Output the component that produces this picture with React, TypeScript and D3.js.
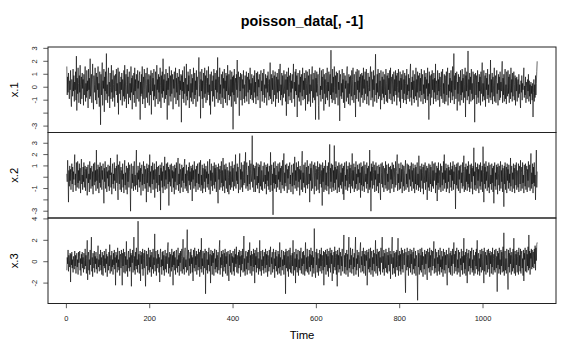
import React from "react";
import * as d3 from "d3";

const chartTitle = "poisson_data[, -1]";
const xTitle = "Time";
const seriesNames = ["x.1", "x.2", "x.3"];

const series1 = [
  1.6, -0.6, 0.8, -0.4, 1.1, 0.2, -0.9, 0.5, -0.2, 1.3,
  -0.8, -1.5, 0.6, 0.1, -0.7, 1.4, -0.3, 0.9, -1.1, 0.4,
  -0.2, 1.2, -1.0, 2.4, -1.8, 0.7, -0.5, 1.5, 0.3, -1.2,
  0.9, -0.4, 1.7, -1.3, 0.2, 0.8, -0.9, 1.1, -0.1, 0.6,
  -1.4, 1.0, -0.6, 0.4, 1.6, -1.1, 0.3, -0.8, 1.3, -0.3,
  0.5, -1.6, 1.4, -0.2, 0.7, -0.9, 2.2, -0.7, 0.1, 1.0,
  -1.2, 0.6, 1.8, -0.5, -1.7, 0.9, 0.2, -0.4, 1.5, -1.0,
  0.4, 1.1, -1.3, 0.8, -0.2, 1.6, -0.8, 0.3, -1.5, 1.2,
  0.1, -2.9, 1.0, -0.6, 0.7, 1.9, -1.4, 0.5, -0.1, 1.4,
  -1.9, 0.8, -0.3, 1.2, -1.0, 2.6, -0.5, 0.2, -1.2, 0.9,
  1.5, -0.7, 0.4, -1.6, 1.1, 0.0, -0.9, 1.7, -0.4, 0.6,
  -1.1, 1.3, 0.2, -0.8, 0.9, -1.5, 0.5, 1.0, -0.3, 1.4,
  -0.6, 0.3, -1.2, 1.5, -2.1, 0.7, 1.2, -0.5, 0.4, -1.0,
  0.8, -0.2, 1.1, -1.4, 0.6, 0.1, -0.7, 1.3, -1.1, 1.7,
  -0.9, 0.4, 1.0, -1.6, 0.2, 1.4, -0.5, 0.8, -1.3, 0.5,
  1.2, -0.8, 0.3, -1.0, 1.6, -0.4, 0.7, -1.7, 0.9, 0.0,
  -0.6, 1.1, -1.2, 1.5, -0.3, 0.6, -1.5, 1.0, 0.2, -0.9,
  1.3, -0.1, 0.5, -1.1, 0.9, 1.2, -2.5, 0.4, -0.7, 1.0,
  -0.5, 1.6, -1.3, 0.3, 0.8, -0.9, 1.4, -0.2, -1.6, 0.7,
  1.1, -0.8, 0.2, 1.5, -1.2, 0.6, -0.4, 1.0, -1.4, 0.3,
  0.9, -0.6, 1.3, -2.1, 0.5, 1.1, -0.3, 0.7, -1.0, 1.4,
  -0.7, 0.2, -1.5, 1.2, 0.4, -0.9, 1.7, -0.2, 0.6, -1.3,
  1.0, -0.4, 0.8, -1.1, 1.5, 0.1, -1.6, 0.9, -0.5, 1.2,
  -0.8, 2.2, -0.3, 0.6, -1.2, 1.0, 0.3, -0.9, 1.4, -0.6,
  0.5, -2.5, 1.1, -0.2, 0.7, -1.4, 1.6, 0.0, -0.7, 0.9,
  -1.1, 1.3, -0.5, 0.4, 1.0, -1.7, 0.6, -0.1, 1.2, -0.8,
  0.3, 1.5, -1.3, 0.7, -0.4, 1.1, -1.0, 0.2, 0.8, -1.5,
  1.4, -0.6, 0.5, -0.2, 1.0, -2.7, 0.9, -0.3, 1.3, -0.9,
  0.4, -1.2, 1.6, -0.5, 0.1, 0.7, -1.4, 1.8, -0.7, 0.2,
  -1.0, 1.2, -0.3, 0.9, -1.6, 0.6, 1.4, -0.8, 0.3, -1.1,
  1.0, -0.4, 0.7, -1.3, 1.5, 0.0, -0.9, 1.1, -0.6, 0.5,
  -1.5, 1.3, -0.2, 0.8, -1.1, 0.4, 1.0, 2.3, -0.7, 0.2,
  1.2, -2.4, 0.6, -0.3, 1.4, -0.9, 0.5, -1.6, 1.1, 0.1,
  -0.8, 1.5, -0.5, 0.9, -1.2, 0.3, 1.3, -1.0, 0.7, -0.4,
  1.6, -0.6, 0.2, -1.4, 1.0, -2.1, 0.8, 1.2, -0.3, 0.5,
  -1.1, 0.9, -0.7, 1.4, 0.0, -1.5, 1.1, -0.2, 0.6, -0.9,
  1.3, -0.4, 2.3, -1.2, 0.4, 0.8, -1.0, 1.5, -0.5, 0.2,
  -1.3, 1.0, 0.3, -0.8, 1.2, -1.6, 0.7, -0.1, 1.4, -0.9,
  0.5, -1.2, 1.1, -0.3, 0.9, -1.4, 1.7, 0.1, -0.6, 1.0,
  -1.0, 0.4, 1.3, -0.7, 0.6, -1.5, 1.2, -0.4, 0.8, -3.25,
  0.9, -0.6, 1.4, -1.1, 0.3, 0.7, -1.3, 1.0, -0.2, 2.1,
  -0.8, 0.5, 1.2, -0.5, -2.2, 0.8, -0.3, 1.1, -1.0, 0.4,
  1.0, -1.4, 0.6, -0.1, 1.3, -0.9, 0.2, -1.2, 0.9, 0.3,
  -0.7, 1.2, -1.1, 0.5, 0.8, -0.4, 1.1, -1.3, 0.6, -0.2,
  1.5, -0.9, 0.3, -0.6, 1.0, -1.0, 0.7, 0.1, -1.2, 0.9,
  -0.4, 1.3, -0.8, 0.4, -1.3, 1.1, 0.2, -0.7, 1.2, -1.0,
  0.6, 0.0, 1.0, -0.5, -1.6, 0.8, 1.3, -0.3, 0.5, -1.1,
  1.1, -0.6, 0.4, 1.4, -1.2, 0.2, -0.8, 1.0, -0.1, 0.7,
  -1.4, 0.9, -0.4, 1.2, 0.3, -1.0, 0.6, -0.7, 1.9, -0.9,
  0.4, 1.0, -1.3, 0.7, -0.2, 1.3, -1.1, 0.5, 0.9, -0.6,
  1.2, -1.5, 0.3, 0.8, -0.9, 1.1, -0.4, 0.6, -1.2, 1.4,
  -0.3, 0.7, 1.8, -1.0, 0.2, -0.6, 1.1, -1.4, 0.9, 0.0,
  -0.8, 1.3, -0.5, 0.4, 1.0, -1.1, 0.6, -2.2, 1.2, -0.2,
  0.8, -1.3, 1.5, -0.7, 0.3, 0.9, -1.0, 1.1, -0.4, 0.5,
  -1.2, 1.0, -0.1, 0.7, 1.8, -0.9, 0.4, -1.5, 1.2, -0.3,
  1.4, -0.6, 0.9, -2.3, 0.6, 1.1, -0.8, 0.2, -1.1, 1.3,
  -0.4, 0.8, -1.4, 1.0, 0.1, -0.7, 1.5, -1.0, 0.5, -0.2,
  1.1, -0.9, 0.7, -1.8, 1.3, 0.3, -0.6, 1.2, -1.3, 0.4,
  0.9, -1.1, 1.4, -0.5, 0.2, -1.5, 1.0, -0.3, 0.8, 1.6,
  -1.2, 0.6, -0.8, 1.1, 0.4, -1.0, 1.3, -2.5, 0.7, -0.4,
  1.2, -0.7, 0.3, 1.0, -1.4, -2.5, 0.9, 1.5, -0.6, 0.1,
  -1.1, 1.3, -0.2, 0.8, -0.9, 1.4, 0.5, -1.8, 1.0, -0.5,
  0.6, -1.3, 1.1, 0.2, -0.8, 1.5, -1.0, 0.4, -0.3, 1.2,
  -1.5, 0.7, 1.0, -0.6, 2.86, -0.9, 0.3, -1.2, 1.4, -0.4,
  0.8, -1.0, 1.6, 0.0, -1.3, 0.9, -0.5, 1.2, -0.8, 0.5,
  1.1, -1.4, 0.4, -0.2, 1.3, -2.6, 0.7, 1.0, -0.7, 0.3,
  -0.9, 1.4, -0.4, 0.6, -1.2, 1.1, 0.2, -1.6, 0.9, -0.1,
  0.5, -1.1, 1.2, 1.6, -0.8, 0.3, -1.3, 1.0, -0.5, 0.8,
  -1.4, 0.9, 0.1, -0.7, 1.3, -1.0, 0.6, 1.5, -0.3, -1.2,
  1.0, -0.6, 0.4, -2.3, 1.2, 0.7, -0.9, 1.4, -0.2, 0.5,
  -1.1, 1.3, -0.4, 0.8, -1.5, 1.0, 0.3, -0.8, 1.1, -0.6,
  0.9, -1.2, 1.5, -0.1, 0.6, -1.0, 1.2, -0.5, 0.2, 1.4,
  -1.3, 0.5, -0.7, 1.1, 0.0, -1.4, 0.8, -0.3, 1.0, 1.6,
  -1.0, 0.4, 1.2, -0.8, 0.6, -1.5, 1.3, -0.2, 0.9, -1.1,
  0.7, 2.55, -0.6, 0.3, -1.2, 1.0, -0.4, 1.4, -0.9, 0.2,
  1.1, -0.7, 0.5, -1.7, 1.3, 0.1, -1.0, 0.8, -0.5, 1.2,
  -0.8, 0.6, -1.3, 1.0, 0.4, -0.6, 1.4, -1.1, 0.3, 0.9,
  -1.2, 1.1, -0.2, 0.7, -0.9, 1.3, -0.5, 1.5, -1.0, 0.4,
  0.8, -1.3, 1.0, 0.2, -0.7, 1.2, -1.1, 0.6, -0.3, 1.3,
  -0.6, 0.9, -1.4, 1.1, 0.0, -0.8, 1.4, -0.4, 0.5, -1.1,
  1.2, -1.6, 0.7, -0.2, 1.0, -0.9, 0.4, 1.3, -1.2, 0.6,
  -0.5, 1.1, -1.0, 0.3, 0.9, -1.3, 1.4, -0.6, 0.2, -0.9,
  1.0, -0.3, 0.7, -1.1, 1.2, 1.8, -0.8, 0.4, -1.4, 0.8,
  -0.2, 1.3, -0.9, 0.5, -1.2, 1.0, 0.3, -0.7, 1.5, -1.0,
  0.6, -0.4, 1.2, -1.5, 0.9, 0.1, -0.8, 1.1, -0.3, 0.7,
  -1.1, 1.4, -0.6, 0.4, 1.0, -1.3, 0.2, -0.5, 1.3, -0.9,
  0.8, -1.2, 1.1, -0.1, 0.6, -1.0, 1.5, -0.7, 0.3, -2.5,
  1.2, -0.5, 0.9, -1.4, 0.4, 1.0, -0.8, 1.3, -0.2, 0.6,
  -1.3, 1.1, -0.4, 0.7, -0.9, 1.8, -1.1, 0.5, 0.2, -0.6,
  1.3, -1.0, 0.6, -0.3, 1.1, -1.5, 0.8, 0.0, -0.7, 1.2,
  -0.9, 0.5, 1.4, -1.2, 0.3, -0.5, 1.0, -1.3, 0.9, 0.4,
  -1.1, 1.2, -0.6, 0.8, 1.5, -1.4, 0.2, -0.8, 1.1, -0.3,
  0.7, -1.2, 1.3, -0.4, 0.5, -1.0, 1.6, -0.7, 0.1, 2.6,
  -1.3, 0.9, -0.2, 1.1, -0.9, 0.6, 1.2, -1.8, 0.4, -0.5,
  1.0, -1.1, 0.8, 0.3, -1.4, 1.3, -0.6, 0.5, -1.0, 1.4,
  -0.4, 0.7, -1.2, 1.0, 0.2, -0.8, 1.5, -2.3, 0.9, -0.3,
  1.2, -1.0, 0.4, 2.8, -0.7, 0.6, -1.3, 1.1, -0.2, 0.8,
  -1.1, 1.4, -0.5, 0.3, -1.0, 1.2, 0.7, -0.9, 1.0, -2.7,
  0.5, 1.1, -0.6, 0.9, -1.3, 0.2, 1.3, -0.8, 0.4, -1.2,
  1.0, -0.3, 0.8, -1.4, 1.2, -0.5, 0.6, 1.9, -1.1, 0.3,
  -0.7, 1.3, -1.0, 0.5, 0.9, -1.5, 1.1, -0.2, 0.7, -0.9,
  1.4, -0.6, 0.2, -1.2, 1.0, 0.4, -0.8, 2.1, -1.0, 0.6,
  -0.4, 1.1, -1.3, 0.8, 0.1, -0.7, 1.5, -1.1, 0.5, 0.9,
  -1.2, 0.6, 1.3, -0.5, 0.3, -1.4, 1.0, -0.2, 0.8, -1.0,
  1.2, -0.8, 0.4, -0.3, 1.1, 2.0, -1.2, 0.7, -0.6, 1.0,
  -1.1, 0.5, 1.4, -0.9, 0.2, -1.3, 1.2, 0.0, -0.7, 1.3,
  -0.5, 0.8, -1.2, 1.0, 0.3, -0.9, 1.5, -0.4, 0.6, -1.1,
  1.1, -0.7, 0.4, 1.2, -1.0, 0.2, 0.9, -1.4, 0.7, -0.3,
  0.8, -1.1, 0.3, 0.6, -0.8, 1.0, -0.5, 0.2, -0.9, -1.6,
  0.5, -0.4, 0.9, -1.0, 0.3, -0.2, 0.7, 1.5, -0.8, 0.1,
  -0.6, 0.8, -1.2, 0.4, 0.0, -0.9, 0.6, -0.3, 1.0, -1.1,
  0.5, -0.7, 0.2, -1.3, 0.4, -0.5, 0.1, -1.0, 0.3, -2.3,
  -0.4, 0.6, -1.1, 0.2, -0.8, 0.9, -0.6, 0.3, 1.2, 2.0,
];

const series2 = [
  0.3, -0.4, 1.5, 0.2, -2.2, 0.6, -0.8, 1.0, -0.3, 0.7,
  -1.1, 0.4, 1.2, -0.6, 0.9, -1.3, 0.5, -0.2, 1.1, 2.0,
  -0.7, 0.3, -1.2, 1.3, 0.1, -0.9, 1.4, -0.5, 0.6, -1.0,
  1.2, -0.3, 0.8, -1.4, 0.4, 1.6, -0.6, 0.2, -1.1, 0.9,
  -0.4, 1.3, -0.9, 0.5, 1.0, -1.2, 0.7, -0.1, 0.9, -1.6,
  0.6, 1.1, -0.5, 0.3, -1.3, 1.4, -0.2, 0.8, -1.0, 0.4,
  1.0, -0.8, 0.5, -1.5, 1.2, 0.0, -0.7, 1.3, -0.4, 0.6,
  -1.2, 2.4, -0.3, 0.7, -1.0, 1.1, 0.2, -1.4, 0.9, -0.5,
  1.3, -0.9, 0.4, 1.0, -1.1, 0.6, -0.2, 1.2, -0.7, -2.3,
  0.8, -0.4, 1.4, -1.0, 0.3, 0.9, -1.3, 0.5, -0.1, 1.1,
  -0.8, 0.6, -1.2, 1.0, 0.2, 1.7, -0.9, 0.4, -1.5, 0.7,
  1.2, -0.6, 0.3, -1.0, 1.3, -0.3, 0.8, -1.2, 0.5, 1.0,
  -0.5, 2.0, -0.8, -2.0, 1.1, 0.2, -0.6, 1.4, -1.1, 0.4,
  0.9, -1.3, 0.6, -0.2, 1.2, -0.9, 0.3, -1.4, 0.7, 1.5,
  -0.7, 0.4, -1.1, 1.0, 0.1, -1.5, 0.8, -0.4, 1.3, -0.9,
  0.5, 1.1, -0.6, -3.0, 0.7, 1.2, -1.0, 0.3, -0.5, 1.0,
  -1.2, 0.6, 1.4, -0.8, 0.2, -1.1, 0.9, 2.4, -0.7, 0.4,
  -1.3, 1.0, -0.2, 0.6, -0.9, 1.3, -0.4, 0.8, -1.6, 0.5,
  1.1, -0.7, 0.3, -1.2, 1.4, 0.0, -0.6, 1.0, -1.0, 0.7,
  0.2, -2.2, 1.2, -0.5, 0.8, -1.3, 0.4, 1.1, -0.8, 2.0,
  -0.9, 0.5, -1.4, 1.0, 0.3, -0.6, 1.3, -1.1, 0.6, -0.2,
  1.2, -1.8, 0.7, 0.1, -1.0, 1.4, -0.5, 0.9, -1.3, 0.4,
  1.0, -0.7, 0.2, -1.2, 1.1, -2.9, 0.8, -0.3, 1.3, -0.9,
  0.5, -1.4, 1.0, 0.3, -0.8, 1.8, -1.1, 0.6, -0.2, 1.2,
  -1.0, 0.4, 1.3, -0.6, 0.9, -2.5, 0.7, -0.4, 1.1, -0.8,
  0.3, 1.2, -1.3, 0.6, -0.1, 1.0, -0.9, 0.5, -1.5, 1.1,
  -0.4, 0.8, -1.1, 1.3, 0.2, -0.7, 1.0, 1.7, -1.2, 0.3,
  -0.6, 1.2, -1.4, 0.7, 0.4, -0.9, 1.1, -0.3, 0.8, -1.3,
  0.9, -0.5, 1.2, 1.6, -1.0, 0.3, -0.8, 1.1, -1.2, 0.6,
  0.1, -1.4, 0.9, -0.3, 1.3, -0.7, 0.5, -1.1, 1.0, -0.4,
  0.8, -2.1, 1.1, -0.2, 0.6, -1.0, 1.4, 0.0, -0.8, 0.7,
  -1.3, 1.0, -0.5, 0.4, 1.2, -1.1, 0.3, -0.6, 1.3, -0.9,
  0.6, 1.5, -1.2, 0.2, -0.7, 1.1, -1.4, 0.8, 0.3, -1.0,
  1.2, -0.4, 0.7, -1.3, 1.0, -0.1, 0.5, -0.9, 1.4, -0.6,
  0.3, -1.1, 0.9, 1.6, -1.5, 0.6, -0.3, 1.2, -0.8, 0.4,
  -1.2, 1.0, 0.2, -0.7, 1.3, -1.0, 0.8, -0.4, 1.1, -1.3,
  0.5, 0.9, -0.6, -2.3, 1.2, -0.2, 0.7, -1.1, 1.0, 0.3,
  -0.9, 1.4, -0.5, 0.6, -1.2, 1.7, -0.8, 0.2, 1.1, -1.4,
  0.7, -0.3, 1.2, -1.0, 0.4, 0.9, -1.3, 0.6, 0.0, -1.5,
  1.3, -0.7, 0.5, -1.1, 1.0, 0.2, -0.9, 1.4, -0.4, 0.8,
  -1.2, 0.6, 1.1, -0.8, 0.3, 2.0, -1.0, 0.5, -0.3, 1.2,
  -0.6, 0.9, -1.4, 0.4, 1.0, 2.1, -1.1, 0.7, -0.2, 1.3,
  -0.9, 0.5, -1.3, 1.1, 0.0, -0.7, 1.4, -0.5, 0.8, 2.2,
  -1.0, 0.6, 1.3, -0.8, 0.2, -1.2, 1.0, 0.4, -0.6, 1.5,
  -1.1, 0.7, 1.2, -0.4, 0.3, 3.67, -0.9, 0.5, 1.1, -1.3,
  0.8, -0.2, 1.0, -1.3, 0.6, 1.3, -0.7, 0.1, -1.0, 1.2,
  -0.5, 0.9, -1.4, 1.1, 0.3, -0.8, 1.4, -1.1, 0.6, 0.0,
  -1.2, 1.0, -0.4, 0.7, 1.3, -1.0, 0.2, -0.6, 1.1, -1.5,
  0.9, -0.3, 1.2, -0.8, 0.5, -1.1, 1.0, 0.4, -1.3, 2.2,
  -0.7, 0.6, 1.1, -1.2, 0.3, -3.32, 1.3, -0.5, 0.8, -1.0,
  1.4, -0.6, 0.2, -1.3, 1.0, 0.7, -0.9, 1.2, -0.2, 0.5,
  -1.1, 1.3, -0.4, 0.8, -1.4, 1.0, 0.1, -0.7, 1.5, -1.0,
  0.6, 2.1, -1.2, 0.4, -0.5, 1.1, -0.8, 0.3, 1.2, -1.4,
  0.7, -0.1, 1.0, -1.1, 0.5, 1.3, -0.6, 0.2, -1.3, 0.9,
  1.1, -0.8, 0.4, -1.5, 1.2, 0.0, -0.7, 1.8, -1.0, 0.6,
  -0.3, 1.3, -1.2, 0.5, 0.9, -0.9, 1.4, -0.4, 0.7, -1.6,
  1.0, -0.2, 0.6, -1.1, 1.2, 2.3, -1.3, 0.4, -0.5, 1.1,
  -0.9, 0.7, 1.3, -1.4, 0.2, 0.9, -0.7, 1.5, -1.0, 0.4,
  1.0, -0.6, 0.3, -2.2, 1.2, -0.3, 0.8, -1.2, 1.4, 0.1,
  -1.0, 0.6, 1.1, -0.5, -1.5, 1.3, -0.8, 0.4, 1.0, -1.2,
  0.7, -0.2, 1.4, -1.1, 0.5, 0.9, -1.4, 1.2, -0.6, 0.3,
  1.1, -0.9, 0.6, -2.5, 1.3, -0.4, 0.8, -1.3, 1.0, 0.2,
  -1.1, 1.5, -0.7, 0.4, -1.2, 1.0, 0.6, -0.8, 1.3, -1.5,
  0.5, 2.9, -1.0, 0.8, -0.4, 1.2, -1.3, 0.3, 1.1, -0.9,
  0.6, -1.2, 2.8, -0.5, 0.9, -1.1, 1.4, -0.2, 0.7, -1.4,
  1.0, 0.3, -0.9, 1.3, -1.3, 0.6, 1.1, -0.7, 0.4, -1.0,
  1.2, -0.4, 0.8, -1.5, 1.0, -2.0, 0.5, 1.3, -0.8, 0.2,
  -1.1, 1.4, -0.3, 0.7, -1.2, 1.0, 0.1, -0.9, 1.3, -0.6,
  0.8, -1.4, 1.1, 0.4, -0.8, 2.1, -1.0, 0.6, -0.3, 1.2,
  -1.3, 0.5, 0.9, -1.0, 1.4, -0.6, 0.3, -1.2, 1.1, 0.0,
  0.7, -1.1, 1.2, -0.5, 0.4, -1.8, 1.3, -0.7, 0.9, -1.2,
  1.0, 0.2, -0.8, 1.4, -1.3, 0.6, 1.1, -0.4, 0.3, -1.0,
  1.3, -0.6, 0.8, -1.4, 1.0, 0.1, -1.1, 2.4, -0.9, 0.5,
  -3.0, 1.2, -0.3, 0.9, -1.0, 1.4, 0.4, -0.7, 1.1, -1.3,
  0.6, -0.2, 1.3, -1.2, 0.7, 1.0, -0.8, 0.3, -1.4, 1.1,
  -0.5, 0.9, -1.1, -2.0, 1.2, 0.4, -0.6, 1.3, -0.9, 0.7,
  1.0, -1.3, 0.2, 0.8, -0.7, 1.4, -1.0, 0.5, 1.1, -1.2,
  0.3, -0.4, 1.2, -1.1, 0.9, 0.6, -1.4, 1.0, -0.2, 0.7,
  -1.0, 1.3, -0.6, 0.4, 1.1, -1.3, 0.8, 0.0, -0.9, 1.4,
  -0.7, 0.5, 1.0, 2.0, -1.2, 0.3, -0.5, 1.2, -1.1, 0.8,
  0.2, -1.0, 1.3, -0.4, 0.7, -1.4, 1.1, 0.5, -0.8, 1.0,
  -1.2, 0.6, 0.9, 1.5, -1.1, 0.3, -0.6, 1.2, -0.9, 0.4,
  1.1, -1.3, 0.7, -0.2, 1.0, -0.8, 0.5, 1.3, -1.2, 0.6,
  -0.4, 1.2, -1.0, 0.8, 0.2, -1.4, 1.1, -0.6, 0.9, -1.1,
  0.5, 1.3, -0.7, 0.3, -1.2, 1.9, -0.9, 0.6, 1.0, -1.3,
  0.7, -0.3, 1.2, -1.0, 0.4, 0.9, -1.5, 1.1, -0.5, 0.2,
  1.3, -1.1, 0.6, -0.4, 1.0, -2.0, 0.8, 0.3, -0.9, 1.2,
  -1.2, 0.5, 1.1, -0.6, 0.9, -1.3, 0.2, 1.4, -0.8, 0.6,
  -1.0, 1.2, -0.3, 0.7, 1.3, -1.4, 0.4, -0.7, 1.0, -2.1,
  0.8, -0.5, 1.3, -1.1, 0.6, 0.1, -0.9, 1.2, -1.3, 0.5,
  1.0, -0.7, 0.4, -1.2, 1.4, -0.2, 2.0, -1.0, 0.6, -0.5,
  1.2, -1.3, 0.8, 0.3, -1.0, 1.1, -0.4, 0.9, -1.4, 0.6,
  0.2, 1.3, -0.9, 0.7, -1.2, 1.0, -0.3, 1.4, -1.1, 0.5,
  -0.6, 1.1, 0.4, -2.8, 0.9, -0.7, 1.2, -1.0, 0.3, 1.3,
  -1.2, 0.6, -0.2, 1.0, -1.4, 0.8, 1.1, -0.5, 0.4, -1.0,
  1.3, -0.8, 0.5, 1.9, -1.3, 0.2, 0.9, -1.1, 1.2, -0.4,
  0.7, -1.2, 1.0, -0.6, 1.4, -0.9, 0.3, -1.3, 1.1, 0.6,
  -1.0, 1.2, -0.4, 0.8, -1.5, 1.0, 0.1, 2.6, -1.1, 0.5,
  -0.7, 1.3, -1.2, 0.4, 0.9, -1.0, 1.2, -0.3, 0.7, -1.4,
  1.1, 0.2, -0.8, 1.3, -1.1, 0.6, -0.4, 1.0, -1.3, 2.7,
  0.4, -2.2, 1.2, -0.6, 0.9, -1.0, 1.4, -0.3, 0.5, -1.2,
  1.0, 0.3, -0.9, 1.3, -1.4, 0.7, 1.1, -0.6, 0.2, -1.1,
  1.2, -0.5, 0.8, -1.3, 1.0, -2.3, 0.6, 1.3, -0.8, 0.4,
  -1.1, 1.1, -0.2, 0.9, -1.5, 1.2, 0.3, -0.7, 1.0, -1.2,
  0.5, 1.4, -1.0, 0.6, -0.4, 1.1, -1.3, 0.8, 0.1, -2.6,
  1.0, -0.6, 1.3, -1.1, 0.4, 0.9, -1.4, 1.2, -0.3, 0.7,
  -1.0, 1.1, -0.5, 0.3, -1.2, 1.7, -0.8, 0.6, 1.0, -1.3,
  0.4, -0.2, 1.2, -1.0, 0.8, -1.4, 1.1, 0.5, -0.7, 1.3,
  -1.1, 0.6, 0.2, -0.9, 1.2, -1.3, 0.7, 1.0, -0.6, 1.5,
  -1.2, 0.4, 0.9, -1.0, 1.3, -0.5, 0.2, -1.4, 1.1, 0.6,
  -0.8, 1.2, -1.1, 0.5, 1.0, -1.3, 0.7, -0.3, 1.4, -0.9,
  0.3, 1.1, -1.2, 0.8, 2.1, -1.0, 0.4, -0.6, 1.2, -1.4,
  0.9, -0.5, 1.3, -0.8, 0.2, -2.0, 0.7, 2.4, -0.9, 0.5,
];

const series3 = [
  -0.8, 0.4, -0.2, 1.1, -0.9, 0.6, 0.1, -0.5, 0.8, -1.9,
  0.7, -0.3, 0.9, -0.6, 0.2, -1.0, 0.5, 0.0, -0.7, 1.0,
  -0.4, 0.6, -1.1, 0.3, 0.8, -0.5, 0.2, -1.2, 0.9, -0.1,
  0.5, 1.0, -0.8, 0.3, -1.3, 0.7, -0.2, 0.9, -0.6, 0.4,
  -1.0, 0.8, 0.1, -0.7, 1.2, -0.4, 0.6, -1.1, 0.3, 2.0,
  -1.7, 0.5, 0.9, -0.8, 0.2, -1.2, 1.1, -0.3, 0.6, 2.3,
  -0.9, 0.4, -1.4, 0.8, 0.0, -0.6, 1.0, -1.0, 0.5, -0.2,
  0.9, -0.7, 0.3, -1.1, 0.6, 1.5, -0.5, 0.2, -0.9, 0.7,
  -0.3, 1.1, -0.8, 0.4, -1.2, 0.9, 0.1, -1.3, 0.6, -0.4,
  1.0, -0.6, 0.3, -1.0, 1.2, -0.2, 0.7, -1.4, 0.5, 0.0,
  -0.8, 0.9, -0.4, 1.6, -1.1, 0.3, 0.6, -0.9, 1.0, -0.5,
  0.2, -1.2, 0.8, -0.3, 1.1, -0.7, 0.4, -2.2, 0.9, -0.1,
  0.6, -1.0, 1.3, -0.5, 0.2, -0.8, 1.0, -1.3, 0.5, 0.7,
  -0.6, 1.1, -0.2, -2.2, 0.8, -0.4, 1.2, -1.0, 0.3, 0.9,
  -1.1, 0.5, -0.3, 1.9, -0.9, 0.2, -1.4, 0.7, 1.0, -0.6,
  0.4, -0.9, 1.2, -0.5, 0.8, -2.3, 0.6, -0.1, 1.1, -1.0,
  0.3, 2.3, -0.8, 0.5, -1.2, 0.9, -0.4, 1.3, -0.7, 0.2,
  -1.0, 3.79, -0.3, 0.7, -1.1, 0.4, 1.0, -1.8, 0.6, -0.2,
  0.9, -0.7, 1.2, -1.3, 0.3, 0.8, -0.6, 1.1, -0.9, -2.3,
  0.5, 1.0, -0.4, 0.7, -1.2, 0.2, 1.3, -0.8, 0.4, -1.0,
  1.1, -0.5, 0.6, -1.4, 0.9, 0.0, -0.7, 1.2, -1.1, 0.4,
  -0.3, 2.6, -0.9, 0.5, 1.0, -1.3, 0.3, -0.6, 1.1, -0.2,
  0.7, -1.0, 0.4, -1.9, 0.8, 1.2, -0.5, 0.2, -1.2, 0.9,
  -0.4, 1.0, -0.8, 0.6, -1.3, 0.3, 1.1, -0.7, 0.5, -1.0,
  0.8, -0.2, 1.3, 1.8, -1.1, 0.4, -0.6, 0.9, -1.4, 0.7,
  0.1, -0.9, 1.2, -0.5, 0.6, -2.2, 0.9, -0.3, 1.0, -0.8,
  0.4, -1.2, 0.7, 1.1, -0.6, 0.2, -1.0, 1.3, -0.4, 0.6,
  -1.3, 0.8, -0.1, 1.0, -0.9, 0.5, 1.2, -1.1, 0.3, 2.1,
  -0.7, 0.4, -1.2, 0.9, 1.3, -0.5, 0.2, -1.0, 0.7, 3.0,
  -0.8, 0.5, 1.1, -1.3, 0.3, -0.4, 0.9, -1.1, 1.2, -0.2,
  0.6, -1.0, 0.4, -1.8, 1.1, 0.0, -0.6, 1.3, -0.9, 0.5,
  -0.3, 1.0, -1.2, 0.7, 0.2, -0.8, 1.2, -0.5, 0.9, -1.4,
  0.4, 1.1, -0.7, 2.2, -1.0, 0.3, -0.4, 1.0, -1.2, 0.6,
  0.8, -0.6, 1.2, -3.0, 0.5, 1.0, -0.8, 0.2, -1.1, 0.9,
  -0.3, 1.3, -0.9, 0.5, 0.7, -2.0, 1.1, -0.4, 0.6, -1.2,
  1.0, -0.1, 0.8, -1.3, 0.4, 1.2, -0.7, 0.3, -1.0, 1.1,
  -0.5, 0.6, -1.1, 0.9, 0.2, -0.8, 1.3, 2.0, -1.2, 0.4,
  -0.6, 1.0, -0.3, 0.7, -1.4, 1.1, 0.1, -0.9, 0.8, -0.5,
  1.2, -1.1, 0.5, -0.2, 0.9, -1.3, 0.6, 1.0, -0.7, -1.8,
  0.7, -0.4, 1.1, -1.0, 0.3, 0.8, -1.2, 0.5, -0.1, 1.0,
  -0.9, 0.4, -1.3, 1.2, -0.5, 0.7, -0.2, 1.4, -1.0, 0.6,
  0.2, -1.1, 0.9, -0.6, 1.1, -0.3, 0.5, -1.4, 1.0, -0.8,
  0.6, -0.2, 1.2, -1.0, 0.4, 2.4, -0.9, 0.3, -1.3, 0.8,
  1.0, -0.7, 0.5, -1.2, 0.9, -0.1, 1.1, -0.8, 0.3, 1.8,
  -1.1, 0.6, -0.4, 1.0, -1.3, 0.7, 0.2, -0.9, 1.2, -0.5,
  0.8, -2.0, 1.1, -0.3, 0.5, -1.0, 1.3, -0.6, 0.4, 0.9,
  -1.2, 0.3, -0.7, 2.0, -0.9, 0.6, 1.0, -1.3, 0.2, -0.4,
  1.1, -0.8, 0.5, -1.1, 0.9, 0.0, -0.6, 1.2, -1.0, 0.7,
  -0.3, 1.0, -1.4, 0.6, 0.3, -0.9, 1.1, -0.5, 0.8, 1.4,
  -1.2, 0.4, -0.2, 0.9, -1.0, 0.6, 1.2, -0.7, 0.3, -1.5,
  0.9, -0.4, 1.1, -0.9, 0.5, 0.2, -1.2, 1.0, -0.6, 0.7,
  -1.1, 1.8, -0.5, 0.4, -1.3, 0.8, 1.1, -0.8, 0.2, -0.4,
  1.0, -1.2, 0.6, -0.3, 0.9, -3.0, 1.2, -0.6, 0.4, 1.0,
  -0.9, 0.5, -1.4, 1.1, 0.0, -0.7, 1.3, -1.0, 0.6, 0.2,
  -1.1, 0.8, -0.4, 2.0, -1.3, 0.6, 0.9, -0.8, 0.3, -2.0,
  1.2, -0.5, 0.7, -1.0, 0.4, 1.1, -1.3, 0.2, -0.6, 1.0,
  -0.8, 0.5, 1.3, -1.1, 0.3, -0.4, 0.9, -1.2, 1.0, -0.2,
  0.6, -1.3, 0.8, 1.8, -0.9, 0.4, -0.7, 1.2, -1.0, 0.5,
  0.1, -1.2, 1.1, -0.5, 0.7, -0.9, 1.3, -0.3, 0.6, -1.4,
  1.0, -0.6, 0.4, -1.1, 3.1, 0.2, -0.8, -1.5, 0.9, -0.3,
  1.2, -1.0, 0.5, 0.8, -1.3, 0.3, -0.6, 1.1, -0.9, 0.7,
  -0.4, 1.3, -1.1, 0.6, 0.0, -0.8, 1.0, -2.2, 0.9, -0.5,
  0.4, 1.1, -1.2, 0.7, -0.3, 1.2, -0.9, 0.5, -1.4, 1.0,
  -0.6, 0.3, 1.3, -1.0, 0.8, -0.2, 1.1, -1.8, 0.6, 0.2,
  -1.1, 0.9, -0.5, 1.4, -0.8, 0.4, 1.0, -1.2, 0.7, -2.3,
  1.1, -0.3, 0.6, -1.0, 1.3, -0.7, 0.2, 0.9, -1.3, 0.5,
  -0.4, 1.2, -0.9, 0.3, 1.0, 2.5, -1.1, 0.6, -0.5, 0.8,
  -1.2, 0.4, 1.1, -0.8, 0.7, -1.4, 0.9, 2.3, -0.6, 0.2,
  -1.0, 1.3, -0.3, 0.6, -1.1, 0.9, 1.2, -0.7, 0.4, -1.3,
  0.8, -0.5, 1.0, 2.3, -1.2, 0.3, -0.8, 1.1, -0.2, 0.6,
  -1.4, 0.9, 0.2, -0.6, 1.2, 1.8, -1.0, 0.5, -0.3, 1.0,
  -0.9, 0.4, 1.3, -1.1, 0.7, -0.4, 1.0, -1.3, 0.6, 0.1,
  1.1, -2.2, 0.5, 0.9, -0.7, 1.2, -1.0, 0.3, -0.5, 1.3,
  -1.2, 0.6, 1.0, -0.8, 0.4, -1.4, 1.1, -0.2, 0.8, -0.9,
  0.5, 2.0, -1.1, 0.7, -0.4, 1.2, -1.3, 0.3, 0.9, -0.6,
  1.0, -0.9, 0.4, -1.2, 1.3, -0.1, 0.6, 2.3, -1.0, 0.5,
  -0.7, 1.1, -1.3, 0.8, 0.2, -0.6, 1.2, -1.0, 0.4, 0.9,
  -1.1, 0.6, -0.3, 1.3, -0.9, 0.5, 1.0, -1.6, 0.7, -0.2,
  1.2, 2.3, -1.2, 0.4, -0.6, 1.0, -1.1, 0.8, 0.3, -1.4,
  0.9, -0.5, 1.1, -0.8, 0.2, 2.2, -1.3, 0.6, -0.4, 1.0,
  -0.9, 0.7, -1.2, 1.3, 0.0, -0.7, 1.1, -1.0, 0.5, 0.8,
  -0.3, 1.2, -1.1, -2.9, 0.9, 0.4, -0.8, 1.3, -0.5, 0.6,
  -1.3, 1.0, 0.2, -0.6, 1.2, -1.0, 0.7, -0.2, 1.1, -1.2,
  0.5, 0.9, -0.7, 1.3, -1.1, 0.3, -0.4, 1.0, -1.3, 0.6,
  0.2, -0.9, -3.61, 1.1, -0.5, 0.8, -1.2, 0.4, 1.2, -0.8,
  0.6, -1.0, 1.3, -0.3, 0.9, -1.4, 0.5, 0.1, -0.7, 1.1,
  -1.2, 0.7, -0.2, 1.0, -0.9, -1.7, 1.2, 0.4, -0.6, 0.9,
  -1.0, 1.3, -0.5, 0.6, -1.3, 1.1, 0.2, -0.8, 1.0, -0.4,
  0.7, 1.9, -1.1, 0.3, -0.6, 1.2, -1.0, 0.5, 0.9, -1.3,
  0.4, -0.2, 1.1, -0.9, 0.6, -1.2, 1.3, -0.5, 0.2, -1.0,
  1.0, -0.7, 0.5, -1.4, 1.2, 0.0, -0.8, 0.9, -1.1, 0.6,
  -0.3, 1.1, -0.9, -2.2, 0.7, 0.3, -0.6, 1.3, -1.0, 0.4,
  0.8, -1.2, 1.0, -0.4, 0.6, -1.3, 1.2, -0.2, 0.5, 1.8,
  -1.1, 0.7, -0.5, 1.0, -0.9, 0.4, 1.3, -1.2, 0.2, -0.6,
  1.1, -1.0, 0.6, 0.9, -1.4, 0.3, -0.3, 1.2, -0.8, 0.5,
  -1.2, 1.0, -0.1, 2.2, -1.1, 0.6, -0.7, 0.9, -1.3, 0.4,
  1.2, -2.0, 0.5, 0.8, -0.9, 1.1, -0.4, 0.3, -1.2, 1.0,
  -0.6, 0.7, 1.3, -1.0, 0.2, -0.8, 1.1, -1.3, 0.6, 0.0,
  -1.1, 0.9, -0.4, 1.2, -0.7, 2.0, -1.2, 0.5, 0.8, -0.9,
  0.3, -1.3, 1.1, -0.5, 0.7, -1.0, 1.2, 0.2, -0.8, 1.0,
  -0.4, -2.0, 1.3, -0.9, 0.5, 0.9, -1.2, 0.6, -0.3, 1.1,
  -1.0, 0.4, 1.2, -0.7, 0.8, -1.4, 1.0, -0.2, 0.6, -1.1,
  0.9, -0.5, 1.3, -1.2, 0.3, 0.7, -0.8, 1.1, -1.0, 0.4,
  1.2, -0.6, 0.5, -2.8, 1.0, -0.3, 0.8, -1.1, 1.3, -0.7,
  0.2, -1.2, 1.1, -0.4, 0.9, -1.0, 0.6, 1.4, -0.9, 2.7,
  -1.3, 0.5, 1.0, -0.8, 0.3, -1.1, 1.2, 0.4, -0.7, -2.6,
  1.1, -0.5, 0.8, -1.0, 1.3, -0.2, 0.6, -1.2, 0.9, 0.3,
  -0.9, 1.2, -0.6, 2.2, -1.1, 0.4, 1.0, -1.3, 0.7, -0.3,
  1.1, -1.0, 0.5, 0.9, -1.2, 1.3, -0.4, 0.6, -0.9, 1.2,
  -1.1, 0.7, 1.0, -0.6, 0.3, -1.3, 1.1, -1.8, 0.8, 0.2,
  1.3, -0.9, 0.5, 1.1, -1.0, 0.7, -0.4, 1.4, -0.8, 2.5,
  -0.6, 1.0, -1.2, 0.8, 0.3, 1.2, -0.7, 1.1, -0.5, 0.9,
  0.9, -0.6, 1.2, -0.2, 1.5, -0.8, 1.3, 0.1, 1.6, 1.8,
];

const yTicks1 = [-3, -2, -1, 0, 1, 2, 3];
const yTickLabels1 = ["-3", "", "-1", "0", "1", "2", "3"];
const yTicks2 = [-3, -2, -1, 0, 1, 2, 3];
const yTickLabels2 = ["-3", "", "-1", "", "1", "2", "3"];
const yTicks3 = [-2, 0, 2, 4];
const yTickLabels3 = ["-2", "0", "2", "4"];
const xTicks = [0, 200, 400, 600, 800, 1000];
const xTickLabels = ["0", "200", "400", "600", "800", "1000"];

const FONT = "'Liberation Sans', Arial, Helvetica, sans-serif";

export default function App() {
  const W = 576;
  const H = 360;
  const left = 48;
  const right = 556;
  const top = 47;
  const bottom = 303.5;
  const panelH = (bottom - top) / 3;
  const allSeries = [series1, series2, series3];
  const allTicks = [yTicks1, yTicks2, yTicks3];
  const allTickLabels = [yTickLabels1, yTickLabels2, yTickLabels3];

  const N = series1.length;
  const xPad = 0.04 * (N - 1);
  const x = d3.scaleLinear().domain([1 - xPad, N + xPad]).range([left, right]);

  const panels = allSeries.map((s, i) => {
    const [lo, hi] = d3.extent(s) as [number, number];
    const pad = 0.04 * (hi - lo);
    const y0 = top + i * panelH;
    const y1 = y0 + panelH;
    const y = d3.scaleLinear().domain([lo - pad, hi + pad]).range([y1, y0]);
    const line = d3
      .line<number>()
      .x((_, j) => x(j + 1))
      .y((d) => y(d));
    return { s, y, y0, y1, path: line(s) || "", ticks: allTicks[i], labels: allTickLabels[i], name: seriesNames[i] };
  });

  return (
    <svg
      width={W}
      height={H}
      viewBox={`0 0 ${W} ${H}`}
      style={{ position: "absolute", left: 0, top: 0, background: "#fff" }}
      fontFamily={FONT}
    >
      <rect x={0} y={0} width={W} height={H} fill="#fff" />
      {panels.map((p, i) => (
        <g key={i}>
          <path d={p.path} fill="none" stroke="#000" strokeWidth={0.6} strokeLinejoin="round" />
          <rect
            x={left}
            y={p.y0}
            width={right - left}
            height={panelH}
            fill="none"
            stroke="#222"
            strokeWidth={1}
          />
          {p.ticks.map((t, k) => (
            <g key={k}>
              <line x1={left} x2={left - 4.7} y1={p.y(t)} y2={p.y(t)} stroke="#333" strokeWidth={0.8} />
              {p.labels[k] !== "" && (
                <text
                  transform={`translate(${37.3},${p.y(t)}) rotate(-90)`}
                  textAnchor="middle"
                  fontSize={7.5}
                  fill="#222"
                >
                  {p.labels[k]}
                </text>
              )}
            </g>
          ))}
          <text
            transform={`translate(${18.3},${(p.y0 + p.y1) / 2}) rotate(-90)`}
            textAnchor="middle"
            fontSize={11.3}
            fill="#000"
          >
            {p.name}
          </text>
        </g>
      ))}
      {xTicks.map((t, k) => (
        <g key={k}>
          <line x1={x(t)} x2={x(t)} y1={bottom} y2={bottom + 4.7} stroke="#333" strokeWidth={0.8} />
          <text x={x(t)} y={320.7} textAnchor="middle" fontSize={7.5} fill="#222">
            {xTickLabels[k]}
          </text>
        </g>
      ))}
      <text x={(left + right) / 2} y={339.3} textAnchor="middle" fontSize={11.3} fill="#000">
        {xTitle}
      </text>
      <text
        x={(left + right) / 2}
        y={25.5}
        textAnchor="middle"
        fontSize={14.3}
        fontWeight="bold"
        fill="#000"
      >
        {chartTitle}
      </text>
    </svg>
  );
}
